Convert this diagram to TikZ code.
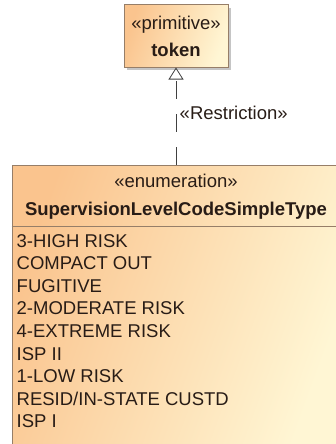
\documentclass[tikz,border=0pt]{standalone}
\usepackage{fontspec}
\setmainfont{Liberation Sans}
\usetikzlibrary{shapes.geometric, arrows.meta, positioning, shadows}

\definecolor{umlorange}{RGB}{250,196,142}
\definecolor{umlcream}{RGB}{255,246,212}
\definecolor{umlborder}{RGB}{150,126,104}
\definecolor{umltext}{RGB}{40,28,22}

\begin{document}
\begin{tikzpicture}[x=1pt, y=1pt, font=\fontsize{18.5}{22.6}\selectfont, text=umltext]
        \tikzstyle{classbox} = [rectangle, draw=umlborder, line width=1pt, left color=umlorange, right color=umlcream,
            shading angle=70, drop shadow={shadow xshift=3pt, shadow yshift=-3pt, fill=black!45}, inner sep=0pt]
        \tikzstyle{realize} = [draw=black!75, line width=0.8pt, dash pattern=on 17.5pt off 15.5pt,
            -{Triangle[open, width=15pt, length=12pt]}]
        \tikzstyle{label} = [inner sep=0pt, align=center]

        \useasboundingbox (0,0) rectangle (335,-444);

        \node [classbox, minimum width=104, minimum height=62, align=center] (token) at (176,-36)
            {«primitive»\\[4.5pt]\textbf{token}};
        \node [classbox, below=97pt of token, minimum width=328, minimum height=279] (enum) {};
        \node [label, below=9.4pt of enum.north] (enumhead)
            {«enumeration»\\[5pt]\textbf{SupervisionLevelCodeSimpleType}};
        \draw [umlborder, line width=1pt] ([yshift=-62pt]enum.north west) -- ([yshift=-62pt]enum.north east);
        \node [label, anchor=north west, align=left] (enumitems) at ([xshift=5pt, yshift=-69.4pt]enum.north west)
            {3-HIGH RISK\\COMPACT OUT\\FUGITIVE\\2-MODERATE RISK\\4-EXTREME RISK\\ISP II\\1-LOW RISK\\RESID/IN-STATE CUSTD\\ISP I};

        \path [realize] (enum) -- node [pos=0.53, right, text=umltext] (restrict) {«Restriction»} (token);
    \end{tikzpicture}
\end{document}
